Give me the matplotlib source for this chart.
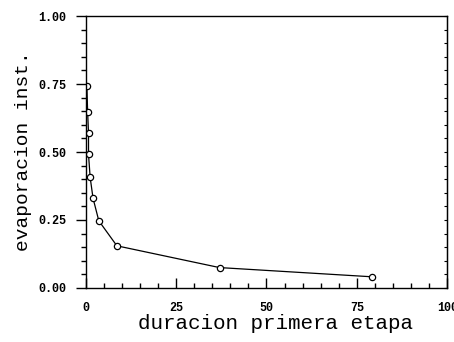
import matplotlib
matplotlib.use("Agg")
import matplotlib.pyplot as plt
from matplotlib.ticker import MultipleLocator, FormatStrFormatter

# duracion de la primera etapa y evaporacion instantanea
duracion = [0.3, 0.5, 0.75, 0.75, 1.2, 2.0, 3.6, 8.6, 37.0, 79.3]
evaporacion = [0.742, 0.649, 0.569, 0.491, 0.407, 0.330, 0.247, 0.155, 0.075, 0.041]

x_ticks = [0, 25, 50, 75, 100]
y_ticks = [0.00, 0.25, 0.50, 0.75, 1.00]

plt.rcParams['font.family'] = ['Liberation Mono', 'DejaVu Sans Mono']

fig = plt.figure(figsize=(4.54, 3.42), dpi=100)
ax = fig.add_axes([0.189, 0.158, 0.796, 0.795])

ax.plot(duracion, evaporacion, color='black', lw=0.9, marker='o',
        markersize=4.5, markerfacecolor='white', markeredgecolor='black',
        markeredgewidth=0.9)

ax.set_xlim(0, 100)
ax.set_ylim(0, 1)
ax.set_xticks(x_ticks)
ax.set_yticks(y_ticks)
ax.xaxis.set_minor_locator(MultipleLocator(5))
ax.yaxis.set_minor_locator(MultipleLocator(0.05))
ax.yaxis.set_major_formatter(FormatStrFormatter('%.2f'))

# eje x: marcas hacia dentro, eje y: hacia fuera
ax.tick_params(axis='x', which='both', direction='in', width=1, labelsize=8.5, pad=10)
ax.tick_params(axis='y', which='both', direction='out', width=1, labelsize=8.5, pad=7)
ax.tick_params(which='major', length=7)
ax.tick_params(which='minor', length=3.5)
for lab in ax.get_xticklabels() + ax.get_yticklabels():
    lab.set_fontweight('bold')

# marcas pequenas en el eje derecho
sec = ax.secondary_yaxis('right')
sec.set_yticks(y_ticks)
sec.yaxis.set_minor_locator(MultipleLocator(0.05))
sec.tick_params(which='both', direction='in', length=2, width=0.8, labelright=False)

for s in ax.spines.values():
    s.set_linewidth(1)

ax.set_xlabel('duracion primera etapa', fontsize=15)
ax.xaxis.set_label_coords(0.525, -0.095)
ax.set_ylabel('evaporacion inst.', fontsize=14)
ax.yaxis.set_label_coords(-0.15, 0.505)

fig.savefig('out.png', dpi=100)
